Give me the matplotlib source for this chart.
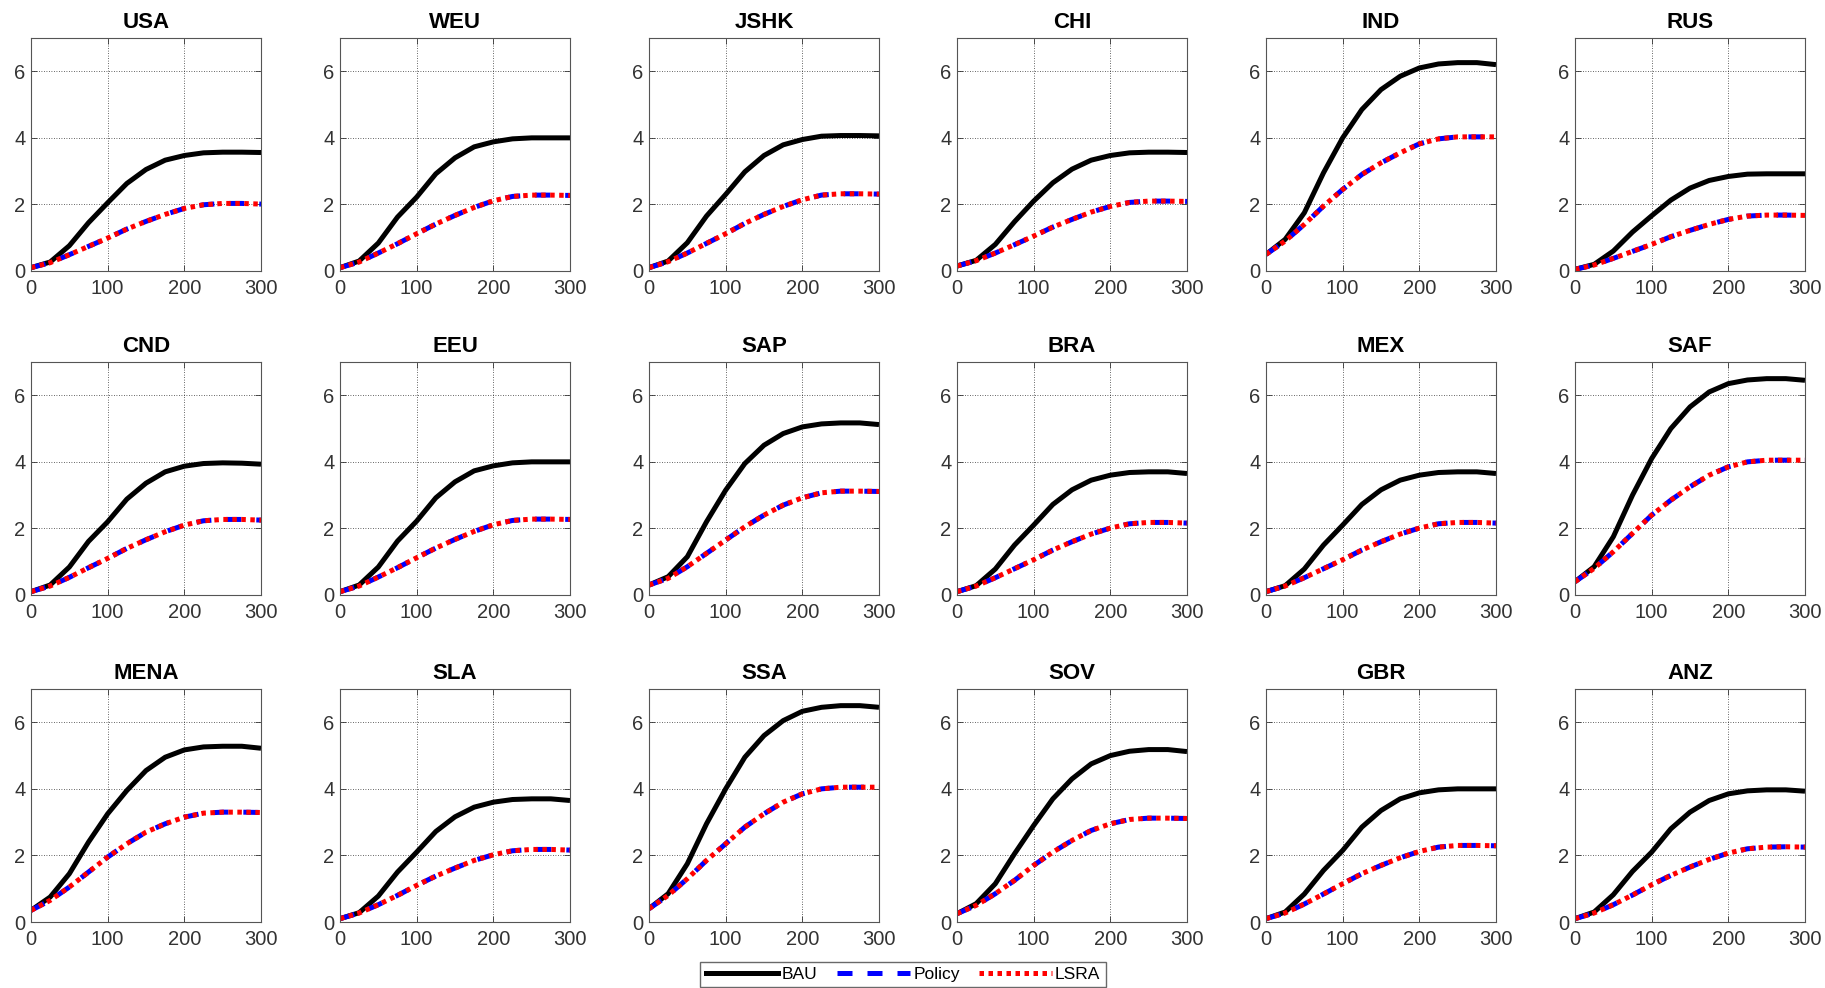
import matplotlib

matplotlib.use("Agg")
import matplotlib.pyplot as plt
from matplotlib.lines import Line2D

plt.rcParams["font.family"] = ["Liberation Sans", "DejaVu Sans"]

years = [0, 25, 50, 75, 100, 125, 150, 175, 200, 225, 250, 275, 300]

regions = [
    "USA", "WEU", "JSHK", "CHI", "IND", "RUS",
    "CND", "EEU", "SAP", "BRA", "MEX", "SAF",
    "MENA", "SLA", "SSA", "SOV", "GBR", "ANZ",
]

bau = {
    "USA": [0.10, 0.27, 0.76, 1.45, 2.05, 2.63, 3.05, 3.33, 3.47, 3.55, 3.57, 3.57, 3.56],
    "WEU": [0.10, 0.30, 0.84, 1.62, 2.22, 2.92, 3.40, 3.73, 3.88, 3.97, 4.00, 4.00, 4.00],
    "JSHK": [0.10, 0.30, 0.85, 1.65, 2.30, 2.98, 3.47, 3.79, 3.95, 4.05, 4.07, 4.07, 4.06],
    "CHI": [0.15, 0.32, 0.80, 1.48, 2.10, 2.65, 3.06, 3.33, 3.47, 3.55, 3.57, 3.57, 3.56],
    "IND": [0.50, 0.95, 1.75, 2.95, 4.00, 4.85, 5.45, 5.85, 6.10, 6.22, 6.26, 6.26, 6.20],
    "RUS": [0.05, 0.20, 0.60, 1.17, 1.66, 2.13, 2.49, 2.72, 2.84, 2.91, 2.92, 2.92, 2.92],
    "CND": [0.10, 0.30, 0.84, 1.61, 2.20, 2.88, 3.36, 3.70, 3.87, 3.95, 3.97, 3.96, 3.93],
    "EEU": [0.10, 0.30, 0.84, 1.62, 2.22, 2.92, 3.40, 3.73, 3.88, 3.97, 4.00, 4.00, 4.00],
    "SAP": [0.30, 0.55, 1.15, 2.20, 3.15, 3.95, 4.50, 4.85, 5.05, 5.14, 5.17, 5.17, 5.12],
    "BRA": [0.10, 0.28, 0.78, 1.50, 2.10, 2.72, 3.16, 3.45, 3.60, 3.68, 3.70, 3.70, 3.65],
    "MEX": [0.10, 0.28, 0.78, 1.50, 2.10, 2.72, 3.16, 3.45, 3.60, 3.68, 3.70, 3.70, 3.65],
    "SAF": [0.40, 0.85, 1.75, 3.00, 4.10, 5.00, 5.65, 6.10, 6.35, 6.46, 6.50, 6.50, 6.45],
    "MENA": [0.35, 0.75, 1.45, 2.40, 3.25, 3.95, 4.55, 4.95, 5.17, 5.26, 5.28, 5.28, 5.22],
    "SLA": [0.10, 0.28, 0.78, 1.50, 2.10, 2.72, 3.16, 3.45, 3.60, 3.68, 3.70, 3.70, 3.65],
    "SSA": [0.40, 0.85, 1.75, 2.95, 4.00, 4.95, 5.60, 6.05, 6.33, 6.45, 6.50, 6.50, 6.45],
    "SOV": [0.25, 0.55, 1.15, 2.05, 2.90, 3.70, 4.30, 4.75, 5.00, 5.13, 5.18, 5.18, 5.12],
    "GBR": [0.10, 0.30, 0.84, 1.55, 2.15, 2.85, 3.35, 3.70, 3.88, 3.97, 4.00, 4.00, 4.00],
    "ANZ": [0.10, 0.30, 0.82, 1.52, 2.10, 2.80, 3.30, 3.65, 3.85, 3.94, 3.97, 3.97, 3.93],
}

policy = {
    "USA": [0.10, 0.25, 0.49, 0.74, 0.99, 1.26, 1.49, 1.70, 1.88, 1.99, 2.03, 2.03, 2.01],
    "WEU": [0.10, 0.27, 0.54, 0.82, 1.12, 1.41, 1.67, 1.91, 2.11, 2.24, 2.28, 2.28, 2.27],
    "JSHK": [0.10, 0.28, 0.54, 0.83, 1.12, 1.43, 1.70, 1.94, 2.14, 2.28, 2.32, 2.32, 2.31],
    "CHI": [0.15, 0.31, 0.54, 0.79, 1.05, 1.32, 1.55, 1.77, 1.94, 2.06, 2.10, 2.10, 2.09],
    "IND": [0.50, 0.90, 1.40, 1.95, 2.45, 2.90, 3.25, 3.55, 3.82, 3.97, 4.03, 4.03, 4.03],
    "RUS": [0.05, 0.18, 0.38, 0.59, 0.80, 1.03, 1.22, 1.40, 1.55, 1.65, 1.68, 1.68, 1.67],
    "CND": [0.10, 0.27, 0.53, 0.82, 1.10, 1.40, 1.66, 1.90, 2.10, 2.23, 2.27, 2.27, 2.25],
    "EEU": [0.10, 0.27, 0.54, 0.82, 1.12, 1.41, 1.67, 1.91, 2.11, 2.24, 2.28, 2.28, 2.27],
    "SAP": [0.30, 0.50, 0.85, 1.25, 1.65, 2.05, 2.40, 2.70, 2.92, 3.07, 3.12, 3.12, 3.11],
    "BRA": [0.10, 0.27, 0.52, 0.79, 1.06, 1.35, 1.60, 1.83, 2.01, 2.14, 2.18, 2.18, 2.16],
    "MEX": [0.10, 0.27, 0.52, 0.79, 1.06, 1.35, 1.60, 1.83, 2.01, 2.14, 2.18, 2.18, 2.16],
    "SAF": [0.40, 0.80, 1.30, 1.85, 2.40, 2.85, 3.25, 3.60, 3.85, 4.00, 4.05, 4.05, 4.05],
    "MENA": [0.35, 0.65, 1.05, 1.50, 1.95, 2.35, 2.70, 2.95, 3.15, 3.27, 3.30, 3.30, 3.29],
    "SLA": [0.10, 0.27, 0.52, 0.80, 1.10, 1.38, 1.62, 1.85, 2.02, 2.14, 2.18, 2.18, 2.16],
    "SSA": [0.40, 0.80, 1.30, 1.85, 2.35, 2.85, 3.25, 3.60, 3.85, 4.00, 4.05, 4.05, 4.05],
    "SOV": [0.25, 0.50, 0.85, 1.25, 1.70, 2.10, 2.45, 2.75, 2.95, 3.08, 3.12, 3.12, 3.11],
    "GBR": [0.10, 0.27, 0.54, 0.84, 1.15, 1.45, 1.70, 1.93, 2.12, 2.25, 2.30, 2.30, 2.29],
    "ANZ": [0.10, 0.27, 0.52, 0.81, 1.12, 1.40, 1.65, 1.88, 2.07, 2.20, 2.25, 2.26, 2.25],
}

# LSRA lies on top of the Policy path in every region
lsra = {name: list(values) for name, values in policy.items()}

x_ticks = [0, 100, 200, 300]
y_ticks = [0, 2, 4, 6]

W, H = 1825, 988
col_left = [31, 340, 649, 957, 1266, 1575]
row_top = [38, 362, 689]
ax_w, ax_h = 230, 233

LW = 3.6
fig = plt.figure(figsize=(W / 100, H / 100), dpi=100)

for index, name in enumerate(regions):
    row, col = divmod(index, 6)
    left = col_left[col] / W
    bottom = 1 - (row_top[row] + ax_h) / H
    ax = fig.add_axes([left, bottom, ax_w / W, ax_h / H])

    ax.plot(years, bau[name], color="black", lw=LW, solid_capstyle="butt",
            solid_joinstyle="round")
    ax.plot(years, policy[name], color="blue", lw=LW, dashes=(3.0, 3.0))
    ax.plot(years, lsra[name], color="red", lw=LW, dashes=(0.9, 0.9))

    ax.set_xlim(0, 300)
    ax.set_ylim(0, 7)
    ax.set_xticks(x_ticks)
    ax.set_yticks(y_ticks)
    ax.grid(True, linestyle=(0, (1, 2)), color="black", lw=0.6, alpha=0.8)
    ax.tick_params(direction="in", length=4, width=0.6, colors="#333333",
                   labelsize=14.5, top=True, right=True)
    ax.tick_params(axis="x", pad=6)
    ax.tick_params(axis="y", pad=4)
    for spine in ax.spines.values():
        spine.set_color("#555555")
        spine.set_linewidth(0.8)
    ax.set_title(name, fontsize=16, fontweight="bold", pad=7)

handles = [
    Line2D([], [], color="black", lw=LW),
    Line2D([], [], color="blue", lw=LW, dashes=(3.0, 3.0)),
    Line2D([], [], color="red", lw=LW, dashes=(0.9, 0.9)),
]
fig.legend(handles, ["BAU", "Policy", "LSRA"], loc="upper center",
           bbox_to_anchor=(903 / W, 1 - 953 / H), ncol=3, fontsize=12.5,
           frameon=True, fancybox=False, edgecolor="#444444",
           handlelength=4.2, handletextpad=0.2, columnspacing=1.1,
           borderpad=0.3)

fig.savefig("out.png", dpi=100)
